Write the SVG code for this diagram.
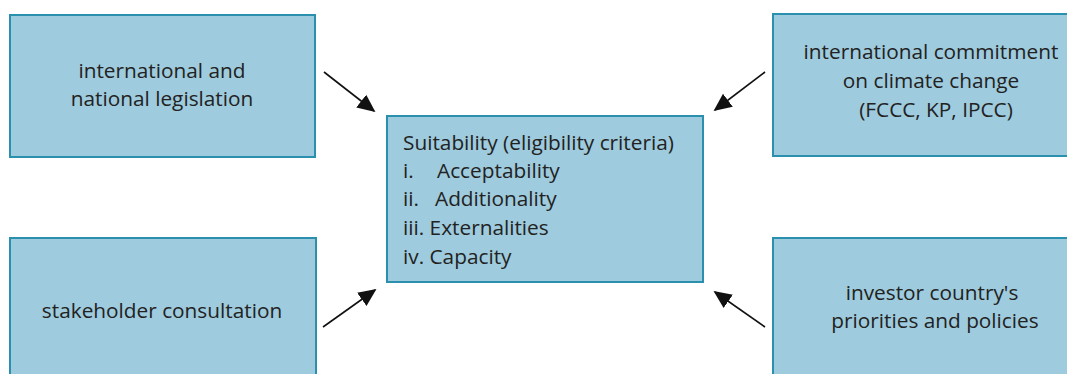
<svg xmlns="http://www.w3.org/2000/svg" width="1067" height="374" viewBox="0 0 1067 374">
<defs>
<style>
.box{fill:#9ecbdd;stroke:#2a90ae;stroke-width:2}
.t{font-family:"Open Sans","Noto Sans",sans-serif;font-size:20.8px;fill:#222}
.c{text-anchor:middle}
.ln{stroke:#111;stroke-width:1.6;fill:none;marker-end:url(#ah)}
</style>
<marker id="ah" viewBox="0 0 10 10" refX="9" refY="5" markerWidth="18" markerHeight="18" markerUnits="userSpaceOnUse" orient="auto">
<path d="M0,0.5 L10,5 L0,9.5 z" fill="#111"/>
</marker>
</defs>
<rect width="1067" height="374" fill="#fff"/>
<g id="node-legislation">
<rect class="box" x="10" y="15" width="305" height="142"/>
<text class="t c" x="162" y="78">international and</text>
<text class="t c" x="162" y="106">national legislation</text>
</g>
<g id="node-commitment">
<rect class="box" x="773" y="14" width="300" height="142"/>
<text class="t c" x="931" y="59">international commitment</text>
<text class="t c" x="931" y="88">on climate change</text>
<text class="t c" x="936" y="117">(FCCC, KP, IPCC)</text>
</g>
<g id="node-stakeholder">
<rect class="box" x="10" y="238" width="306" height="150"/>
<text class="t c" x="162" y="318">stakeholder consultation</text>
</g>
<g id="node-investor">
<rect class="box" x="773" y="238" width="300" height="150"/>
<text class="t c" x="932" y="300">investor country's</text>
<text class="t c" x="935" y="328">priorities and policies</text>
</g>
<g id="node-suitability">
<rect class="box" x="387" y="116" width="316" height="166"/>
<text class="t" x="403" y="150">Suitability (eligibility criteria)</text>
<text class="t" x="403" y="178">i.</text><text class="t" x="437" y="178">Acceptability</text>
<text class="t" x="403" y="206">ii.</text><text class="t" x="435" y="206">Additionality</text>
<text class="t" x="403" y="235">iii. Externalities</text>
<text class="t" x="403" y="264">iv. Capacity</text>
</g>
<g id="connectors">
<line class="ln" x1="324" y1="72" x2="374" y2="111"/>
<line class="ln" x1="765" y1="72" x2="715" y2="110"/>
<line class="ln" x1="323" y1="327" x2="375" y2="290"/>
<line class="ln" x1="765" y1="327" x2="715" y2="292"/>
</g>
</svg>
